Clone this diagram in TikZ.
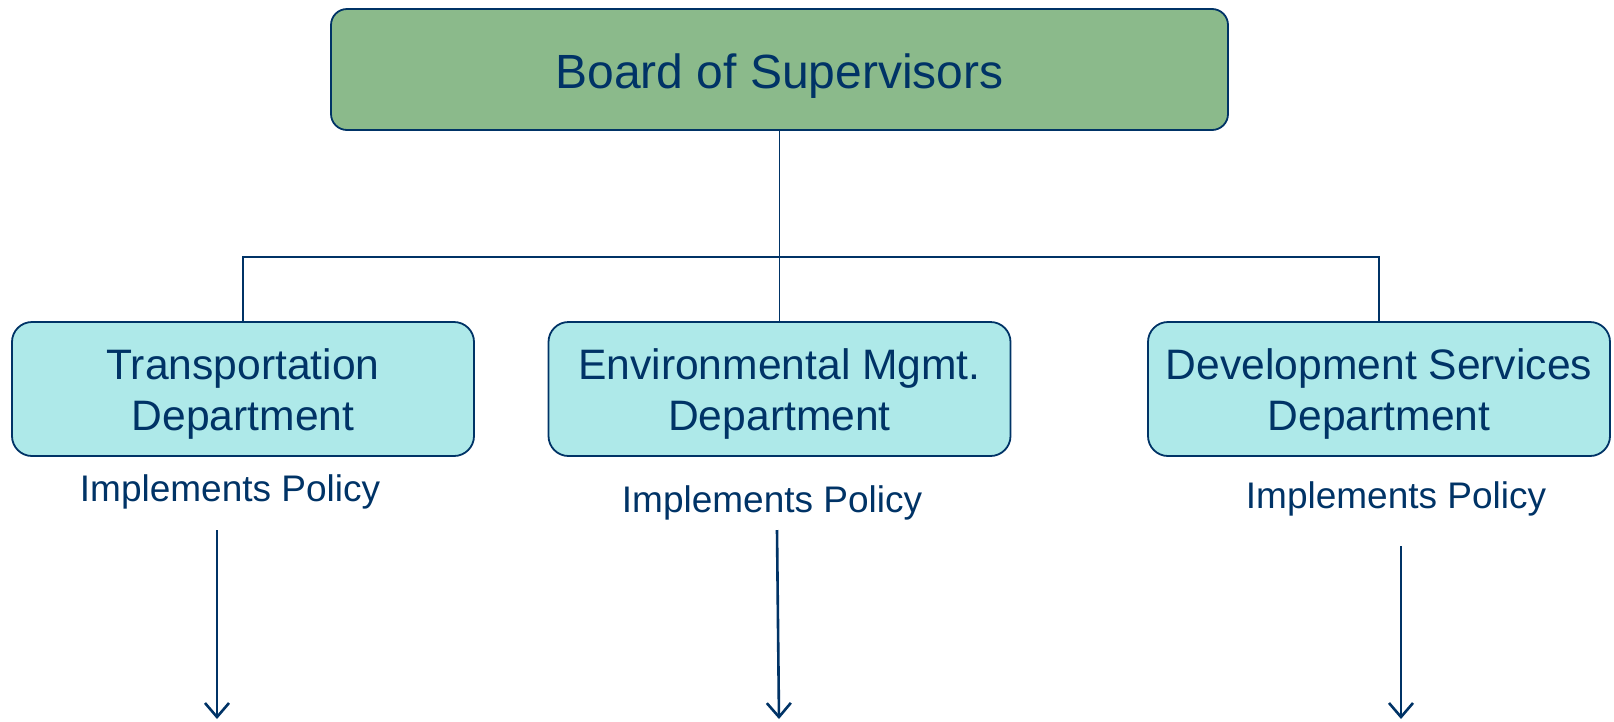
\documentclass[tikz,border=0pt]{standalone}
\usepackage{fontspec}
\setmainfont{Liberation Sans}
\usetikzlibrary{arrows.meta}
\definecolor{navy}{RGB}{0,51,102}
\definecolor{boardgreen}{RGB}{139,186,139}
\definecolor{deptcyan}{RGB}{174,233,233}
\begin{document}
\begin{tikzpicture}[x=1pt,y=-1pt,
                board/.style={draw=navy,line width=1.8pt,fill=boardgreen,rounded corners=16pt,
                    minimum width=897pt,minimum height=121pt,text=navy,font=\fontsize{48}{54}\selectfont,
                    text height=37pt,text depth=0pt},
                dept/.style={draw=navy,line width=1.8pt,fill=deptcyan,rounded corners=20pt,
                    minimum width=462pt,minimum height=134pt,align=center,text=navy,
                    font=\fontsize{42.6}{51}\selectfont,inner sep=0pt,text height=83pt,text depth=0pt},
                policy/.style={anchor=base,text=navy,inner sep=0pt,font=\fontsize{37}{42}\selectfont},
                link/.style={draw=navy,line width=1.8pt},
                flow/.style={draw=navy,line width=2.6pt,-{Straight Barb[length=14pt,width=24pt,line width=2.6pt]}}]
                \useasboundingbox (0,0) rectangle (1614,721);
                \node[board] (bos) at (779.5,69.5) {Board of Supervisors};
                \node[dept] (trans) at (243,389) {Transportation\\Department};
                \node[dept] (env) at (779.5,389) {Environmental Mgmt.\\Department};
                \node[dept] (dev) at (1379,389) {Development Services\\Department};
                \node[policy] (poltrans) at (230,501) {Implements Policy};
                \node[policy] (polenv) at (772,512) {Implements Policy};
                \node[policy] (poldev) at (1396,508) {Implements Policy};
                \coordinate (bus) at (779.5,257);
                \draw[link] (bos.south) -- (env.north);
                \draw[link] (trans.north) |- (bus) -| (dev.north);
                \coordinate (trans-a) at (217,530);
                \coordinate (trans-b) at (217,719);
                \coordinate (env-a) at (777,530);
                \coordinate (env-b) at (779,719);
                \coordinate (dev-a) at (1401,546);
                \coordinate (dev-b) at (1401,719);
                \draw[flow] (trans-a) -- (trans-b);
                \draw[flow] (env-a) -- (env-b);
                \draw[flow] (dev-a) -- (dev-b);
            \end{tikzpicture}
\end{document}
